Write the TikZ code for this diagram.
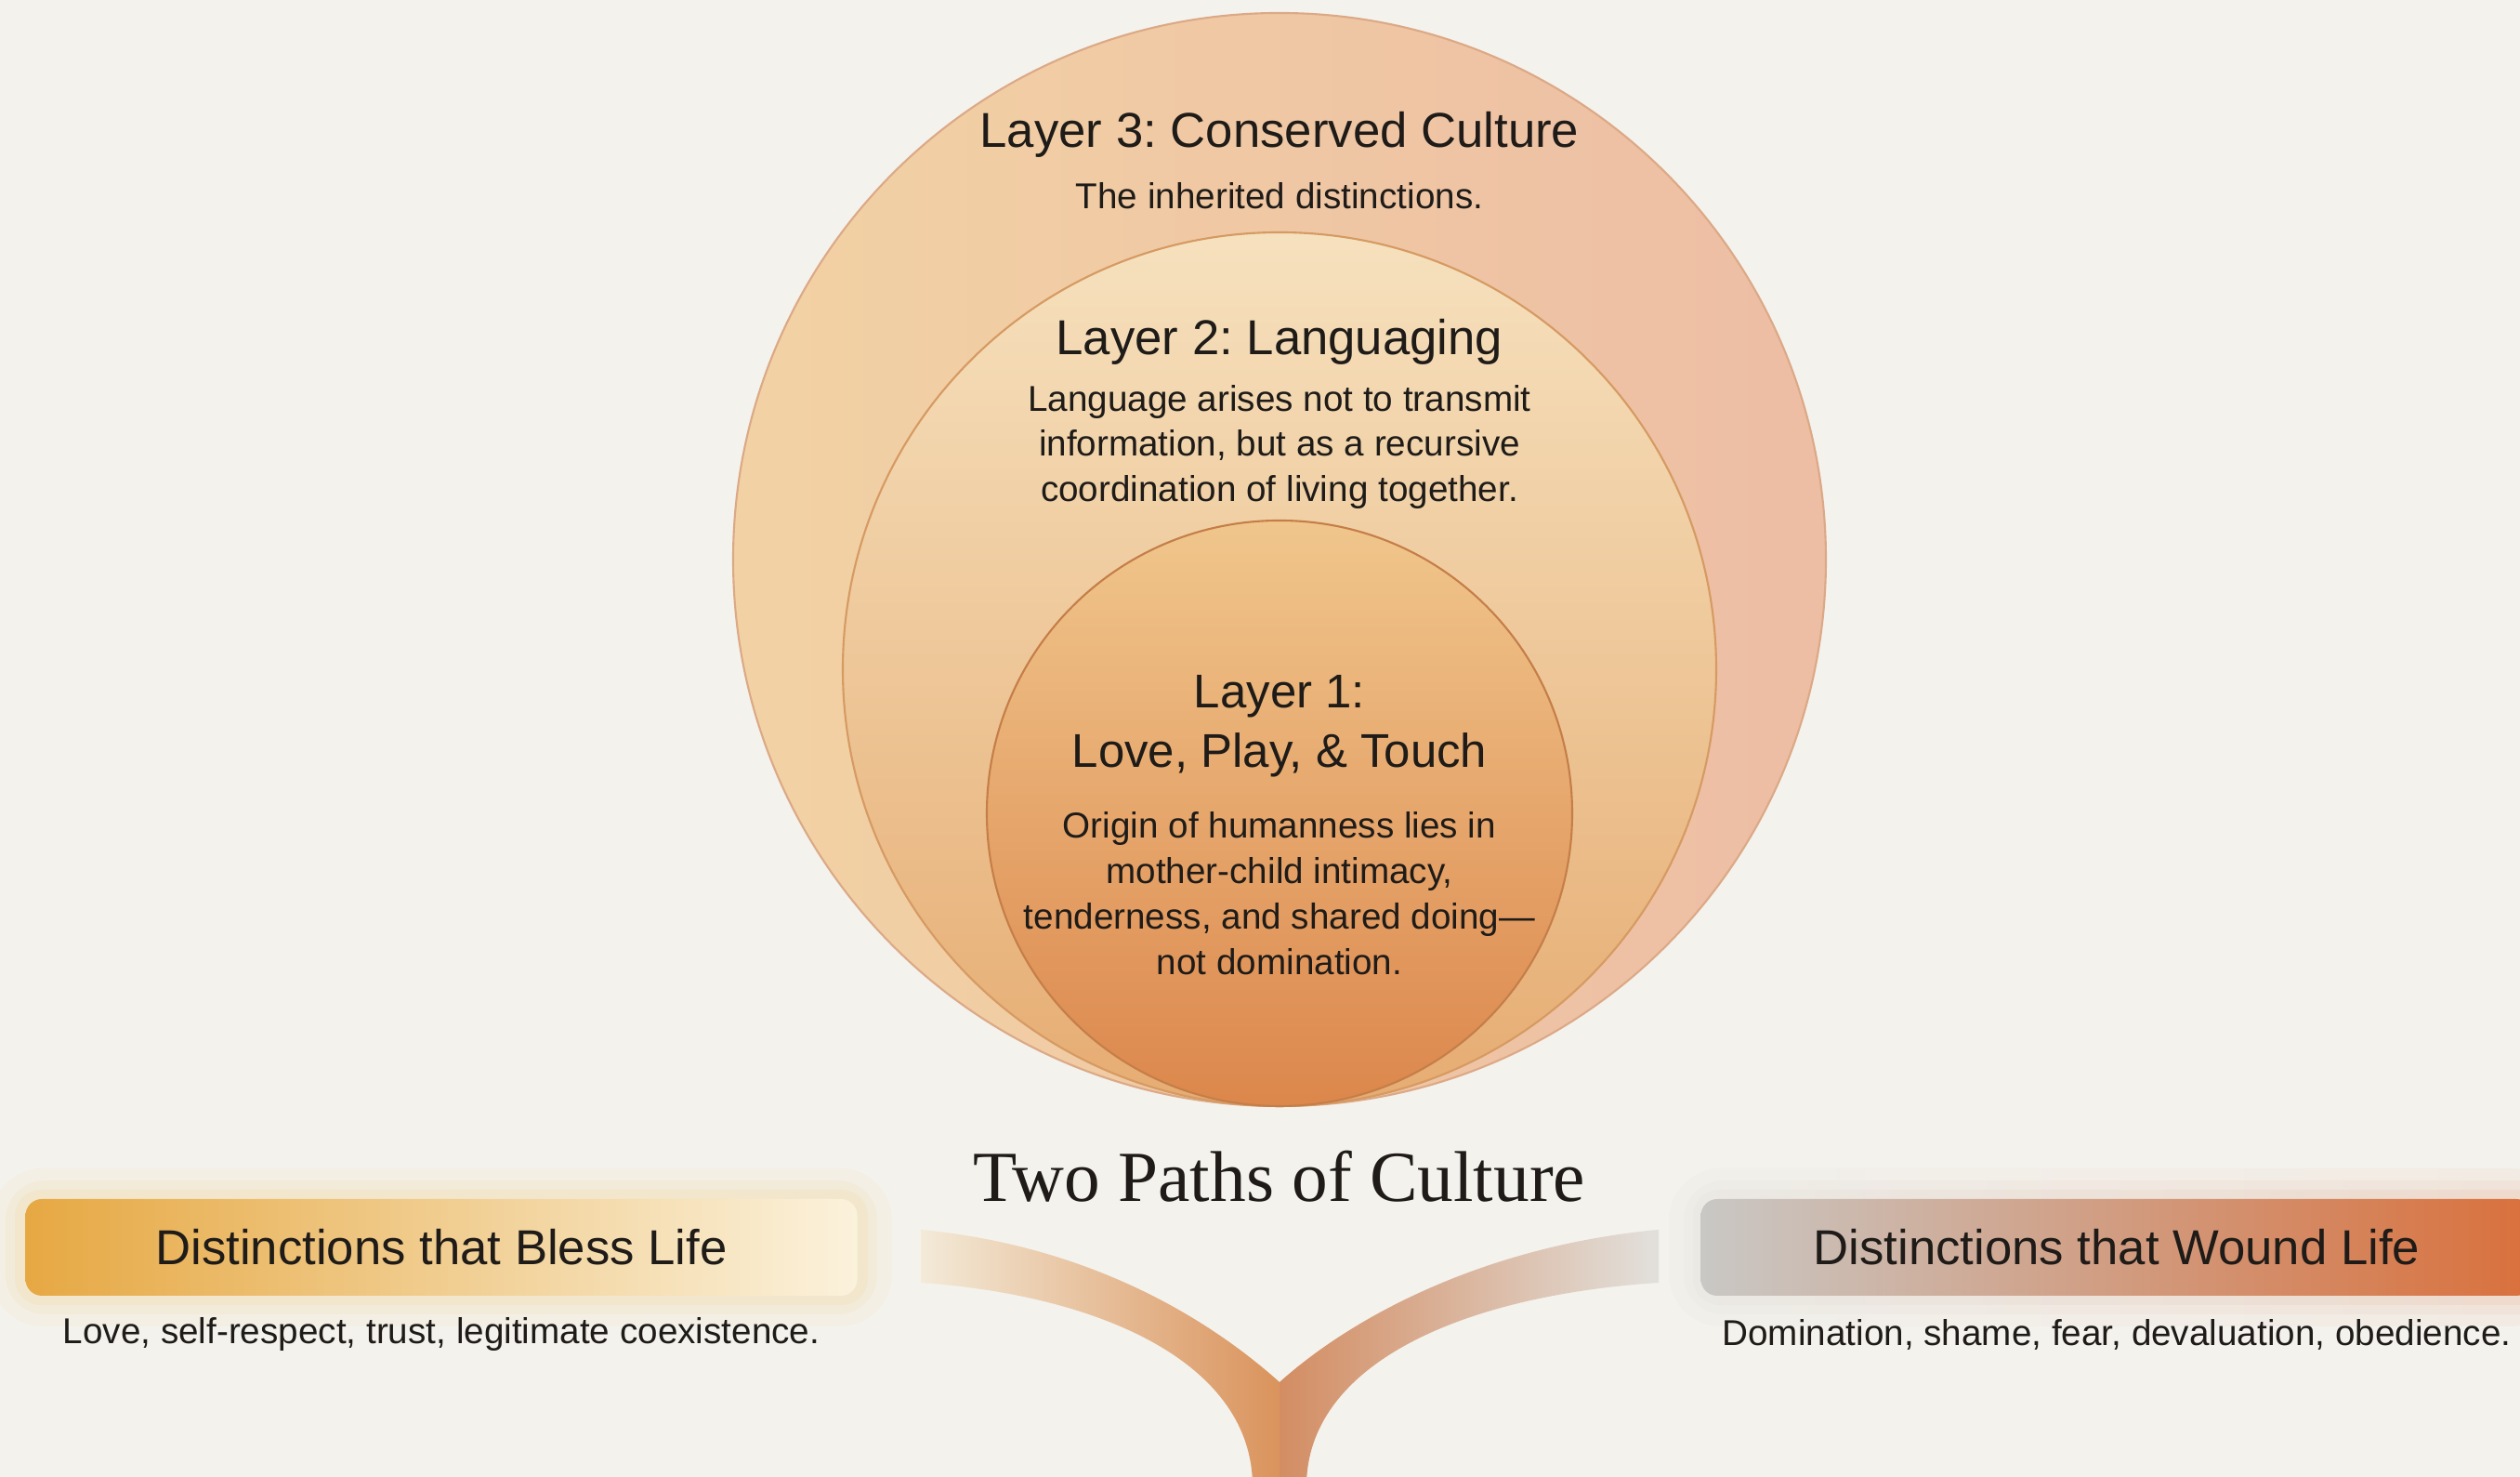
\documentclass[tikz,border=0pt]{standalone}
\usepackage{fontspec}
\setmainfont{Liberation Sans}
\newfontfamily\headfont{Liberation Serif}
\frenchspacing

\definecolor{paper}{HTML}{F4F2ED}
\definecolor{ink}{HTML}{1E1B18}
\definecolor{ltreL}{HTML}{F2D2A4}
\definecolor{ltreM}{HTML}{F8EAD6}
\definecolor{ltreR}{HTML}{EDBDA4}
\definecolor{ltreEdge}{HTML}{DCA986}
\definecolor{ltwoT}{HTML}{F6E1BE}
\definecolor{ltwoB}{HTML}{E6AC72}
\definecolor{ltwoEdge}{HTML}{D69A62}
\definecolor{loneT}{HTML}{F0C68C}
\definecolor{loneM}{HTML}{EDB47A}
\definecolor{loneB}{HTML}{DC874C}
\definecolor{loneEdge}{HTML}{C57E48}
\definecolor{blessL}{HTML}{E6A843}
\definecolor{blessM}{HTML}{F2D38E}
\definecolor{blessR}{HTML}{FBF2DC}
\definecolor{blessGlow}{HTML}{F2C45C}
\definecolor{woundL}{HTML}{C9C8C5}
\definecolor{woundM}{HTML}{D8A98F}
\definecolor{woundR}{HTML}{D9703C}
\definecolor{branchL}{HTML}{F3EAD8}
\definecolor{branchLM}{HTML}{EBC57F}
\definecolor{branchLR}{HTML}{DA935C}
\definecolor{branchRL}{HTML}{D38D63}
\definecolor{branchRM}{HTML}{C9AFA2}
\definecolor{branchR}{HTML}{E2E0DC}

\begin{document}
\begin{tikzpicture}[
    layerhead/.style={font=\fontsize{15}{18.2}\selectfont, text=ink, align=center},
    layerbody/.style={font=\fontsize{11}{13.9}\selectfont, text=ink, align=center},
    pathbox/.style={rounded corners=5pt, minimum width=8.95cm, minimum height=1.04cm,
                    font=\fontsize{15}{18}\selectfont, text=ink},
    ring/.style={line width=0.6pt}]
                        \useasboundingbox (0,0) rectangle (27.12,15.89);
                        \fill[paper] (0,0) rectangle (27.12,15.89);

                        \coordinate (O3) at (13.77,9.87);
                        \coordinate (O2) at (13.77,8.69);
                        \coordinate (O1) at (13.77,7.14);
                        \coordinate (V) at (13.77,1.02);

                        % The three nested layers.
                        \shade[left color=ltreL, middle color=ltreM, right color=ltreR] (O3) circle (5.88);
                        \draw[ring, draw=ltreEdge] (O3) circle (5.88);
                        \shade[top color=ltwoT, bottom color=ltwoB] (O2) circle (4.70);
                        \draw[ring, draw=ltwoEdge] (O2) circle (4.70);
                        \shade[top color=loneT, middle color=loneM, bottom color=loneB] (O1) circle (3.15);
                        \draw[ring, draw=loneEdge] (O1) circle (3.15);

                        \node[layerhead] (L3) at (13.77,14.44) {Layer 3: Conserved Culture};
                        \node[layerbody] (L3s) at (13.77,13.78) {The inherited distinctions.};
                        \node[layerhead] (L2) at (13.77,12.21) {Layer 2: Languaging};
                        \node[layerbody] (L2s) at (13.77,11.08) {Language arises not to transmit\\information, but as a recursive\\coordination of living together.};
                        \node[layerhead, font=\fontsize{14.5}{18.2}\selectfont] (L1) at (13.77,8.08) {Layer 1:\\Love, Play, \& Touch};
                        \node[layerbody] (L1s) at (13.77,6.28) {Origin of humanness lies in\\mother-child intimacy,\\tenderness, and shared doing—\\not domination.};

                        \node[font=\headfont\fontsize{22}{26}\selectfont, text=ink] (paths) at (13.77,3.23) {Two Paths of Culture};

                        % The two paths branching from the stem.
                        \shade[left color=branchL, middle color=branchLM, right color=branchLR]
                            (9.91,2.66) .. controls (11.6,2.5) and (12.9,1.8) .. (V)
                            -- (13.77,-0.1) -- (13.48,-0.1)
                            .. controls (13.48,1.2) and (11.9,1.95) .. (9.91,2.09) -- cycle;
                        \shade[left color=branchRL, middle color=branchRM, right color=branchR]
                            (V) .. controls (14.64,1.8) and (16.1,2.5) .. (17.85,2.66)
                            -- (17.85,2.09) .. controls (15.7,1.95) and (14.06,1.2) .. (14.06,-0.1)
                            -- (13.77,-0.1) -- cycle;

                        % Soft glow round the boxes.
                        \fill[blessGlow, opacity=.06, rounded corners=16pt] (-0.1,1.62) rectangle (9.6,3.32);
                        \fill[blessGlow, opacity=.08, rounded corners=12pt] (0.06,1.75) rectangle (9.44,3.19);
                        \fill[blessGlow, opacity=.10, rounded corners=8pt] (0.16,1.85) rectangle (9.34,3.09);
                        \shade[left color=woundL, right color=woundR, opacity=.05, rounded corners=16pt] (17.96,1.62) rectangle (27.6,3.32);
                        \shade[left color=woundL, right color=woundR, opacity=.06, rounded corners=12pt] (18.12,1.75) rectangle (27.5,3.19);
                        \shade[left color=woundL, right color=woundR, opacity=.08, rounded corners=8pt] (18.22,1.85) rectangle (27.4,3.09);

                        \node[pathbox, left color=blessL, middle color=blessM, right color=blessR] (bless) at (4.75,2.47) {Distinctions that Bless Life};
                        \node[pathbox, left color=woundL, middle color=woundM, right color=woundR] (wound) at (22.78,2.47) {Distinctions that Wound Life};

                        \node[layerbody] (blessSub) at (4.75,1.53) {Love, self-respect, trust, legitimate coexistence.};
                        \node[layerbody] (woundSub) at (22.78,1.53) {Domination, shame, fear, devaluation, obedience.};

                    \end{tikzpicture}
\end{document}
